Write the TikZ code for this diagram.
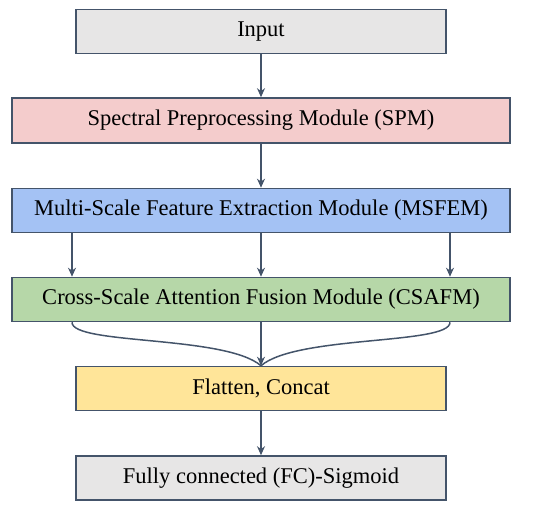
\documentclass[tikz,border=0pt]{standalone}
\usepackage{fontspec}
\setmainfont{Liberation Serif}
\usetikzlibrary{arrows.meta,calc}
\definecolor{edge}{HTML}{44546A}
\definecolor{cgray}{HTML}{E7E6E6}
\definecolor{cpink}{HTML}{F4CCCC}
\definecolor{cblue}{HTML}{A4C2F4}
\definecolor{cgreen}{HTML}{B6D7A8}
\definecolor{cyellow}{HTML}{FFE599}
\begin{document}
\begin{tikzpicture}[x=1pt,y=-1pt,
  box/.style={draw=edge,line width=1.6pt,rectangle,inner sep=0pt,font=\fontsize{22.5}{26}\selectfont,text=black},
  narrow/.style={box,minimum width=370pt,minimum height=44pt},
  wide/.style={box,minimum width=498pt,minimum height=44pt},
  arr/.style={draw=edge,line width=1.5pt,-{Stealth[length=9pt,width=8pt]}},
  link/.style={draw=edge,line width=1.5pt}]
\useasboundingbox (0,0) rectangle (550,510);
\node[narrow,fill=cgray] (in) at (261,31.5) {Input};
\node[wide,fill=cpink,minimum height=45pt] (spm) at (261,120.5) {Spectral Preprocessing Module (SPM)};
\node[wide,fill=cblue] (msfem) at (261,210.5) {Multi-Scale Feature Extraction Module (MSFEM)};
\node[wide,fill=cgreen] (csafm) at (261,299.5) {Cross-Scale Attention Fusion Module (CSAFM)};
\node[narrow,fill=cyellow] (fl) at (261,388.5) {Flatten, Concat};
\node[narrow,fill=cgray] (fc) at (261,478) {Fully connected (FC)-Sigmoid};
\coordinate (cl) at (72,0);
\coordinate (cr) at (450,0);
\draw[arr] (in) -- (spm);
\draw[arr] (spm) -- (msfem);
\draw[arr] (msfem.south -| cl) -- (csafm.north -| cl);
\draw[arr] (msfem) -- (csafm);
\draw[arr] (msfem.south -| cr) -- (csafm.north -| cr);
\draw[link] (csafm.south -| cl) .. controls (72,345) and (225,335) .. (fl.north);
\draw[link] (csafm.south -| cr) .. controls (450,345) and (297,335) .. (fl.north);
\draw[arr] (csafm) -- (fl);
\draw[arr] (fl) -- (fc);
\end{tikzpicture}
\end{document}
